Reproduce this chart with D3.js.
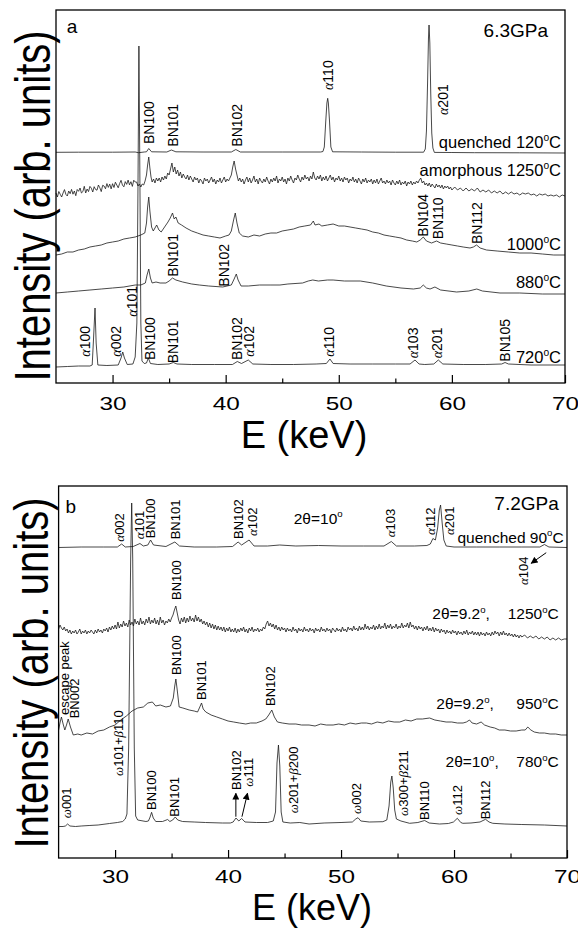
<!DOCTYPE html>
<html>
<head>
<meta charset="utf-8">
<script src="https://cdn.jsdelivr.net/npm/d3@7"></script>
<style>
  body { margin: 0; background: #fff; }
  svg { display: block; font-family: "Liberation Sans", Arial, Helvetica, sans-serif; }
</style>
</head>
<body>
<svg id="chart" width="578" height="928"></svg>
<script>
// energy axis
const energyTicks = [30, 40, 50, 60, 70]
const energyMinor = [35, 45, 55, 65]

// ---- panel a, 6.3 GPa : [E keV, intensity arb.]
const aQuenched120 = [[25.0,230.7],[27.0,230.8],[30.0,230.8],[32.0,231],[32.3,230.3],[32.8,231],[33.0,231.2],[33.2,234.5],[33.45,231.2],[34.8,231],[35.2,233],[35.6,231.2],[38.0,231],[40.5,231],[40.9,233.5],[41.3,231],[45.0,231],[48.4,231],[48.6,231.5],[48.72,236],[48.85,262],[48.95,280],[49.02,284.7],[49.08,280],[49.18,262],[49.3,236],[49.45,231.2],[52.0,231],[55.0,230.8],[57.5,230.8],[57.65,234],[57.75,252],[57.85,300],[57.93,345],[57.98,358],[58.05,340],[58.13,290],[58.22,250],[58.32,235],[58.45,230.6],[60.0,230.5],[62.0,230.3],[66.0,230.2],[70.0,230]]

const aAmorphous1250 = [[25.0,190],[25.125,186],[25.25,191.5],[25.375,188.7],[25.5,186],[25.625,190],[25.75,193.4],[25.875,188.6],[26.0,187],[26.125,192],[26.25,189.3],[26.375,193.6],[26.5,188.8],[26.625,192],[26.75,187.3],[26.875,193.5],[27.0,191.7],[27.125,195],[27.25,190],[27.375,191.4],[27.5,196.7],[27.625,190],[27.75,194],[27.875,191.4],[28.0,196.6],[28.125,194.8],[28.25,191],[28.375,196.3],[28.5,193.5],[28.625,192.8],[28.75,198],[28.875,195.2],[29.0,191.4],[29.125,197.7],[29.25,197],[29.375,194.2],[29.5,199.4],[29.625,195.6],[29.75,198.9],[29.875,194.1],[30.0,199.3],[30.125,195.5],[30.25,200.8],[30.375,198],[30.5,195.2],[30.625,199.5],[30.75,202.7],[30.875,197.9],[31.0,196.2],[31.125,201.4],[31.25,198.6],[31.375,202.9],[31.5,198.1],[31.625,201.3],[31.75,196.6],[31.875,202.8],[32.0,201],[32.125,201],[32.25,197],[32.375,199],[32.5,196],[32.625,199],[32.75,198],[32.875,202],[33.0,208],[33.1,218],[33.2,226],[33.3,215],[33.4,206],[33.5,201],[33.625,204],[33.75,200],[33.875,205],[34.0,202],[34.125,205],[34.25,201],[34.375,206],[34.5,203],[34.625,207],[34.75,204],[34.875,210],[35.0,208],[35.125,214],[35.25,220],[35.375,211],[35.5,216],[35.625,209],[35.75,213],[35.875,207],[36.0,211],[36.125,205],[36.25,209],[36.375,206],[36.5,204],[36.625,208],[36.75,203],[36.875,207],[37.0,204],[37.125,201],[37.25,206],[37.375,203],[37.5,205],[37.625,200],[37.75,204],[37.875,202],[38.0,199],[38.125,205],[38.25,202],[38.375,204],[38.5,200],[38.625,203],[38.75,206],[38.875,201],[39.0,204],[39.125,199],[39.25,203],[39.375,201],[39.5,205],[39.625,200],[39.75,203],[39.875,206],[40.0,201],[40.125,204],[40.25,202],[40.375,205],[40.5,208],[40.625,216],[40.75,222],[40.875,214],[41.0,208],[41.125,202],[41.25,205],[41.375,201],[41.5,204],[41.625,199],[41.75,203],[41.875,206],[42.0,201],[42.125,205],[42.25,200],[42.375,203],[42.5,207],[42.625,201],[42.75,204],[42.875,199],[43.0,205],[43.125,202],[43.25,200],[43.375,204],[43.5,201],[43.625,206],[43.75,202],[43.875,199],[44.0,204],[44.125,201],[44.25,205],[44.375,202],[44.5,207],[44.625,200],[44.75,204],[44.875,202],[45.0,206],[45.125,201],[45.25,204],[45.375,199],[45.5,205],[45.625,202],[45.75,207],[45.875,203],[46.0,200],[46.125,205],[46.25,203],[46.375,208],[46.5,204],[46.625,201],[46.75,206],[46.875,203],[47.0,208],[47.125,204],[47.25,206],[47.375,202],[47.5,207],[47.625,204],[47.75,211],[47.875,205],[48.0,203],[48.125,207],[48.25,204],[48.375,208],[48.5,202],[48.625,206],[48.75,203],[48.875,207],[49.0,202],[49.125,205],[49.25,208],[49.375,203],[49.5,206],[49.625,201],[49.75,205],[49.875,203],[50.0,207],[50.125,202],[50.25,205],[50.375,201],[50.5,206],[50.625,203],[50.75,205],[50.875,200],[51.0,204],[51.125,202],[51.25,206],[51.375,201],[51.5,204],[51.625,200],[51.75,205],[51.875,202],[52.0,199],[52.125,204],[52.25,201],[52.375,205],[52.5,200],[52.625,203],[52.75,201],[52.875,204],[53.0,199],[53.125,203],[53.25,200],[53.375,204],[53.5,199],[53.625,202],[53.75,205],[53.875,200],[54.0,202],[54.125,199],[54.25,203],[54.375,200],[54.5,202],[54.625,198],[54.75,203],[54.875,200],[55.0,198],[55.125,202],[55.25,199],[55.375,203],[55.5,198],[55.625,201],[55.75,199],[55.875,202],[56.0,197],[56.125,201],[56.25,199],[56.375,202],[56.5,198],[56.625,201],[56.75,199],[56.875,202],[57.0,200],[57.125,203],[57.25,205],[57.375,200],[57.5,202],[57.625,198],[57.75,200],[57.875,197],[58.0,200],[58.125,196],[58.25,199],[58.375,197],[58.5,195],[58.625,199],[58.75,196],[58.875,198],[59.0,195],[59.125,198],[59.25,194],[59.375,197],[59.5,195],[59.625,197],[59.75,194],[59.875,196],[60.0,193],[60.25,196],[60.5,193],[60.75,195],[61.0,192],[61.25,195],[61.5,192],[61.75,194],[62.0,192],[62.25,195],[62.5,191],[62.75,193],[63.0,191],[63.25,193],[63.5,190],[63.75,192],[64.0,190],[64.25,192],[64.5,189],[64.75,191],[65.0,189],[65.25,191],[65.5,189],[65.75,190],[66.0,188],[66.25,190],[66.5,189],[66.75,190],[67.0,188],[67.25,189],[67.5,187],[67.75,189],[68.0,188],[68.25,189],[68.5,187],[68.75,188],[69.0,187],[69.25,188],[69.5,186],[69.75,188],[70.0,187]]

const a1000 = [[25.0,128],[25.5,129],[26.0,131],[26.5,131],[27.0,133],[27.5,134],[28.0,136],[28.5,137],[29.0,138],[29.5,140],[30.0,141],[30.5,142],[31.0,144],[31.5,145],[32.0,146],[32.5,148],[32.85,150],[33.0,160],[33.1,176],[33.2,186],[33.3,172],[33.45,156],[33.6,152],[33.75,155],[33.9,158],[34.1,153],[34.3,151],[34.6,156],[34.9,161],[35.1,165],[35.3,170],[35.45,164],[35.6,166],[35.8,160],[36.1,158],[36.5,155],[37.0,152],[37.5,150],[38.0,148],[38.5,147],[39.0,146],[39.5,145],[40.0,147],[40.3,148],[40.5,152],[40.7,163],[40.85,170],[41.0,160],[41.2,150],[41.5,147],[42.0,146],[42.5,148],[43.0,147],[43.5,149],[44.0,150],[44.5,150],[45.0,152],[45.5,153],[46.0,154],[46.5,156],[47.0,157],[47.5,158],[47.75,162],[47.9,158],[48.25,159],[48.5,157],[49.0,158],[49.5,159],[50.0,157],[50.5,157],[51.0,156],[51.5,155],[52.0,154],[52.5,153],[53.0,151],[53.5,150],[54.0,148],[54.5,147],[55.0,146],[55.5,145],[56.0,143],[56.5,142],[56.9,141],[57.2,143],[57.47,146],[57.75,142],[58.2,140],[58.65,142],[59.0,140],[59.5,139],[60.0,138],[60.5,137],[61.0,136],[61.6,135],[61.9,136],[62.18,138],[62.5,135],[63.06,133],[64.0,132],[65.0,131],[66.0,130],[67.0,130],[68.0,129],[69.0,128],[70.0,128]]

const a880 = [[25.0,90],[26.0,91],[27.0,92],[28.0,93],[29.0,94],[30.0,95],[31.0,96],[32.0,98],[32.5,98],[32.9,100],[33.05,108],[33.2,114],[33.35,105],[33.5,100],[33.84,101],[34.2,100],[34.72,100],[35.0,102],[35.3,105],[35.6,103],[36.2,101],[37.0,99],[37.67,98],[38.5,97],[39.74,96],[40.5,98],[40.75,104],[40.94,109],[41.1,103],[41.36,97],[42.0,97],[43.0,98],[44.0,98],[44.8,98],[45.5,99],[46.8,100],[47.3,102],[47.7,103],[48.2,102],[49.0,103],[49.5,103],[50.5,102],[51.9,102],[53.0,100],[54.2,97],[55.5,95],[56.6,94],[57.2,95],[57.47,98],[57.75,95],[58.07,94],[58.5,96],[59.0,93],[60.42,91],[61.5,92],[62.2,94],[62.7,92],[64.25,90],[66.0,90],[68.0,89],[70.0,89]]

const a720 = [[25.0,16],[26.0,16.5],[27.0,17],[28.0,17],[28.2,18],[28.3,40],[28.45,75],[28.55,40],[28.7,18],[29.5,17.5],[30.5,18],[30.75,25],[30.9,31],[31.05,25],[31.3,18.5],[31.8,19],[32.0,26],[32.15,60],[32.25,200],[32.33,337],[32.42,200],[32.5,60],[32.6,22],[32.8,19.5],[33.0,20],[33.16,25],[33.35,19.5],[34.0,18.5],[35.0,19],[35.37,20.5],[35.7,19],[37.0,18.5],[39.0,18.5],[40.6,18.5],[41.03,21.5],[41.4,19.5],[42.0,23],[42.4,19],[44.0,18.5],[46.0,18.5],[48.0,19],[48.9,19.5],[49.22,24],[49.5,19.5],[51.0,19],[53.0,19],[55.0,19],[56.3,19],[56.74,23],[57.1,19],[57.6,18.5],[58.4,19],[58.8,23],[59.2,19],[61.0,18.5],[63.0,18.5],[64.4,19],[64.7,20.5],[65.0,19],[67.0,18],[70.0,18]]

// ---- panel b, 7.2 GPa
const bQuenched90 = [[25.0,310.5],[27.0,311],[29.0,311],[30.2,311],[30.58,314],[30.9,311],[31.6,311.5],[32.2,314.5],[32.5,312],[32.9,313],[33.14,318],[33.4,313],[34.5,311.5],[35.29,316],[35.7,312],[37.0,311],[39.0,311],[40.4,311.5],[40.89,316],[41.2,313],[41.86,318],[42.3,312],[43.5,312],[44.57,313],[46.0,312],[48.0,312.5],[50.0,312],[52.0,312],[53.8,312],[54.45,316.5],[54.9,312],[56.5,312],[57.6,312.5],[57.9,314],[58.13,319.5],[58.35,318],[58.55,330],[58.7,348],[58.81,353],[58.95,335],[59.1,318],[59.31,312],[60.0,311],[62.0,311],[64.0,311],[66.0,311],[67.6,311],[68.0,313.5],[68.4,311],[70.0,310.5]]

const b1250 = [[25.0,229],[25.125,233],[25.25,230],[25.375,228],[25.5,231],[25.625,227],[25.75,229],[25.875,225],[26.0,228],[26.125,224],[26.25,227],[26.375,225],[26.5,228],[26.625,224],[26.75,226],[26.875,229],[27.0,224],[27.125,227],[27.25,225],[27.375,228],[27.5,224],[27.625,227],[27.75,225],[27.875,228],[28.0,226],[28.125,224],[28.25,228],[28.375,225],[28.5,229],[28.625,226],[28.75,228],[28.875,225],[29.0,229],[29.125,227],[29.25,230],[29.375,226],[29.5,231],[29.625,228],[29.75,232],[29.875,229],[30.0,233],[30.125,229],[30.25,236],[30.375,230],[30.5,234],[30.625,231],[30.75,237],[30.875,232],[31.0,235],[31.125,231],[31.25,238],[31.375,233],[31.5,236],[31.625,232],[31.75,239],[31.875,234],[32.0,237],[32.125,233],[32.25,240],[32.375,234],[32.5,237],[32.625,233],[32.75,239],[32.875,235],[33.0,241],[33.125,234],[33.25,238],[33.375,235],[33.5,240],[33.625,234],[33.75,238],[33.875,233],[34.0,241],[34.125,235],[34.25,238],[34.375,233],[34.5,237],[34.625,235],[34.75,239],[34.875,236],[35.0,240],[35.125,243],[35.25,248],[35.375,252],[35.5,245],[35.625,238],[35.75,234],[35.875,240],[36.0,236],[36.125,241],[36.25,235],[36.375,240],[36.5,236],[36.625,242],[36.75,237],[36.875,240],[37.0,236],[37.125,243],[37.25,237],[37.375,241],[37.5,236],[37.625,239],[37.75,234],[37.875,237],[38.0,233],[38.125,236],[38.25,231],[38.375,235],[38.5,230],[38.625,234],[38.75,229],[38.875,233],[39.0,228],[39.125,232],[39.25,228],[39.375,231],[39.5,227],[39.625,231],[39.75,226],[39.875,230],[40.0,227],[40.125,231],[40.25,226],[40.375,229],[40.5,226],[40.625,230],[40.75,225],[40.875,229],[41.0,226],[41.125,230],[41.25,227],[41.375,231],[41.5,226],[41.625,229],[41.75,225],[41.875,230],[42.0,227],[42.125,231],[42.25,226],[42.375,229],[42.5,227],[42.625,230],[42.75,226],[42.875,229],[43.0,227],[43.125,231],[43.25,229],[43.375,234],[43.5,237],[43.625,232],[43.75,235],[43.875,231],[44.0,234],[44.125,229],[44.25,233],[44.375,228],[44.5,231],[44.625,227],[44.75,231],[44.875,228],[45.0,230],[45.125,226],[45.25,230],[45.375,227],[45.5,229],[45.625,226],[45.75,231],[45.875,227],[46.0,229],[46.125,225],[46.25,230],[46.375,227],[46.5,229],[46.625,226],[46.75,231],[46.875,227],[47.0,229],[47.125,226],[47.25,230],[47.375,227],[47.5,229],[47.625,225],[47.75,230],[47.875,227],[48.0,229],[48.125,226],[48.25,231],[48.375,227],[48.5,229],[48.625,226],[48.75,230],[48.875,227],[49.0,229],[49.125,225],[49.25,230],[49.375,228],[49.5,226],[49.625,230],[49.75,227],[49.875,229],[50.0,226],[50.125,231],[50.25,227],[50.375,229],[50.5,226],[50.625,231],[50.75,228],[50.875,230],[51.0,227],[51.125,232],[51.25,228],[51.375,230],[51.5,227],[51.625,232],[51.75,228],[51.875,231],[52.0,228],[52.125,234],[52.25,229],[52.375,232],[52.5,228],[52.625,231],[52.75,229],[52.875,233],[53.0,228],[53.125,232],[53.25,229],[53.375,234],[53.5,229],[53.625,232],[53.75,230],[53.875,235],[54.0,229],[54.125,233],[54.25,230],[54.375,234],[54.5,229],[54.625,232],[54.75,230],[54.875,234],[55.0,229],[55.125,232],[55.25,230],[55.375,235],[55.5,230],[55.625,233],[55.75,231],[55.875,235],[56.0,230],[56.125,236],[56.25,231],[56.375,233],[56.5,229],[56.625,232],[56.75,228],[56.875,232],[57.0,229],[57.125,231],[57.25,227],[57.375,231],[57.5,228],[57.625,232],[57.75,227],[57.875,230],[58.0,227],[58.125,231],[58.25,226],[58.375,230],[58.5,227],[58.625,229],[58.75,225],[58.875,229],[59.0,226],[59.125,228],[59.25,224],[59.375,228],[59.5,225],[59.625,227],[59.75,224],[59.875,228],[60.0,225],[60.125,227],[60.25,223],[60.375,227],[60.5,224],[60.625,226],[60.75,223],[60.875,227],[61.0,224],[61.125,228],[61.25,223],[61.375,226],[61.5,224],[61.625,227],[61.75,223],[61.875,226],[62.0,223],[62.125,226],[62.25,222],[62.375,226],[62.5,223],[62.625,225],[62.75,222],[62.875,226],[63.0,223],[63.125,225],[63.25,222],[63.375,226],[63.5,223],[63.625,227],[63.75,224],[63.875,226],[64.0,222],[64.125,226],[64.25,223],[64.375,227],[64.5,223],[64.625,225],[64.75,222],[64.875,225],[65.0,222],[65.125,224],[65.25,221],[65.375,224],[65.5,221],[65.625,223],[65.75,220],[65.875,223],[66.0,221],[66.25,223],[66.5,220],[66.75,222],[67.0,220],[67.25,222],[67.5,219],[67.75,221],[68.0,219],[68.25,221],[68.5,218],[68.75,220],[69.0,218],[69.25,220],[69.5,218],[69.75,219],[70.0,219]]

const b950 = [[25.0,128],[25.12,135],[25.25,141],[25.4,134],[25.55,128],[25.7,133],[25.85,139],[26.05,131],[26.3,123],[26.7,124],[27.0,123],[27.5,125],[28.0,124],[28.5,127],[29.0,128],[29.5,131],[30.0,133],[30.5,138],[31.0,142],[31.5,147],[32.0,150],[32.5,151],[32.9,155],[33.3,156],[33.6,152],[34.0,153],[34.5,151],[34.9,152],[35.15,160],[35.28,172],[35.38,179],[35.5,168],[35.67,151],[36.0,150],[36.56,148],[37.0,147],[37.3,146],[37.5,151],[37.65,155],[37.8,149],[38.03,146],[38.5,143],[39.0,141],[39.5,139],[40.0,137],[40.5,136],[41.0,135],[41.57,134],[42.0,135],[42.5,135],[43.0,137],[43.34,139],[43.6,143],[43.87,148],[44.1,141],[44.37,136],[44.8,135],[45.4,134],[46.0,134],[46.5,133],[47.17,133],[47.7,132],[48.2,134],[48.7,133],[49.3,133],[49.8,134],[50.3,133],[50.8,135],[51.3,134],[51.8,135],[52.24,135],[52.7,134],[53.2,136],[53.7,135],[54.2,137],[54.7,136],[55.2,136],[55.7,138],[56.2,137],[56.7,139],[57.2,139],[57.84,140],[58.3,138],[58.8,137],[59.3,136],[59.8,136],[60.3,135],[60.8,135],[61.1,136],[61.37,138],[61.6,135],[62.0,134],[62.4,136],[62.7,133],[63.2,131],[63.6,130],[64.0,128],[64.5,128],[65.0,127],[65.5,127],[66.0,128],[66.3,128],[66.53,131],[66.8,128],[67.1,126],[67.56,125],[68.0,125],[68.5,124],[69.0,124],[69.5,123],[70.0,123]]

const b780 = [[25.0,31.5],[25.4,31.5],[25.6,32],[25.8,34],[26.0,32],[26.5,31.5],[27.0,32],[27.7,32.5],[28.5,33],[29.5,34.5],[30.2,35.5],[30.67,36.5],[30.9,39],[31.05,44],[31.2,110],[31.38,300],[31.47,355],[31.56,300],[31.7,110],[31.82,42],[32.0,38],[32.73,36.5],[32.95,37],[33.1,41],[33.23,45.7],[33.38,40],[33.6,36.5],[34.2,36.5],[34.65,38.5],[34.85,36.5],[35.1,38],[35.32,41],[35.55,38],[35.97,36.5],[37.0,36],[38.0,35.5],[39.5,35],[40.2,35],[40.45,36],[40.7,40],[40.95,37],[41.2,39.5],[41.5,36],[42.5,35.5],[43.5,35.5],[44.0,37],[44.2,46],[44.33,95],[44.46,113],[44.58,92],[44.7,46],[44.85,36],[45.5,35],[46.35,35.5],[47.17,34],[48.5,35],[50.0,35.5],[51.0,36],[51.3,39],[51.5,40.3],[51.75,37],[52.5,36],[53.7,36.3],[54.05,38],[54.25,52],[54.4,76],[54.5,82],[54.62,70],[54.75,48],[54.9,39],[55.3,37],[56.07,34.7],[56.8,35.5],[57.4,37.5],[57.8,35],[58.72,34],[59.5,34.5],[59.95,36],[60.29,39.7],[60.6,35.5],[60.78,34.7],[61.5,35],[62.3,36],[62.79,38.7],[63.1,36],[63.43,34.7],[64.5,34],[66.0,33.5],[68.0,33],[70.0,32]]

// ---- annotations: [text, E, intensity]
const aPeakLabels = [
  ['BN100', 33.25, 239], ['BN101', 35.37, 236.3], ['BN102', 41.03, 236.3], ['α110', 49.07, 293], ['α201', 59.24, 268],
  ['BN104', 57.47, 146.3], ['BN110', 58.75, 143.7], ['BN112', 62.19, 139],
  ['BN101', 35.32, 106.3], ['BN102', 39.88, 96.3],
  ['α100', 27.56, 26.3], ['α002', 30.28, 26.3], ['α101', 31.69, 66.3], ['BN100', 33.31, 23], ['BN101', 35.37, 19.7],
  ['BN102', 41.03, 23], ['α102', 42.09, 26.3], ['α110', 49.16, 26.3], ['α103', 56.59, 24.7], ['α201', 58.71, 24.7], ['BN105', 64.69, 21.3]
]
const aConditions = [['quenched 120°C', 69.65, 234.7], ['amorphous 1250°C', 69.65, 207], ['1000°C', 69.65, 133], ['880°C', 69.65, 94.7], ['720°C', 69.65, 20.3]]

const bPeakLabels = [
  ['α002', 30.37, 316.3], ['α101', 32.14, 318.7], ['BN100', 33.14, 319.7], ['BN101', 35.29, 318.7], ['BN102', 40.95, 319], ['α102', 42.16, 322],
  ['α103', 54.39, 320.7], ['α112', 57.9, 323], ['α201', 59.6, 323], ['α104', 66.15, 273],
  ['BN100', 35.38, 258],
  ['escape peak', 25.5, 143], ['BN002', 26.39, 139.7], ['BN100', 35.44, 183], ['BN101', 37.65, 158], ['BN102', 43.78, 152],
  ['ω001', 25.72, 39.7], ['ω101+β110', 30.31, 82], ['BN100', 33.17, 48], ['BN101', 35.23, 41.3], ['BN102', 40.69, 68], ['ω111', 41.81, 71.3],
  ['ω201+β200', 45.75, 44.7], ['ω002', 51.36, 44], ['ω300+β211', 55.48, 42], ['BN110', 57.4, 38], ['ω112', 60.25, 43], ['BN112', 62.76, 38.7]
]
const bAngles = [['2θ=10°', 45.81, 334], ['2θ=9.2°,', 58.08, 238.7], ['2θ=9.2°,', 58.43, 148.7], ['2θ=10°,', 59.25, 90.7]]
const bConditions = [['quenched 90°C', 69.7, 315.3], ['1250°C', 69.27, 238.7], ['950°C', 69.27, 148.7], ['780°C', 69.27, 90.7]]
const bArrows = [[40.69, 41.3, 40.69, 64.7], [41.23, 41.3, 41.72, 64.7], [68.16, 305.3, 66.83, 294.7]]

const svg = d3.select('#chart')

svg.append('defs').append('marker')
  .attr('id', 'head')
  .attr('viewBox', '0 0 10 10')
  .attr('refX', 9).attr('refY', 5)
  .attr('markerWidth', 7).attr('markerHeight', 7)
  .attr('markerUnits', 'userSpaceOnUse')
  .attr('orient', 'auto')
  .append('path').attr('d', 'M0,0L10,5L0,10z').attr('fill', '#000')

// greek letters in a serif italic, ° as raised o
function richText (sel, str, size) {
  const parts = str.split(/([αβωθ°])/).filter(s => s)
  let raised = false
  parts.forEach(p => {
    const t = sel.append('tspan')
    if (p === '°') {
      t.text('o').attr('font-size', size * 0.62).attr('dy', -size * 0.42)
      raised = true
      return
    }
    if (raised) { t.attr('dy', size * 0.42); raised = false }
    t.text(p)
    if ('αβω'.includes(p)) t.attr('font-family', '"Liberation Serif", serif').attr('font-style', 'italic')
  })
}

function drawPanel (cfg) {
  const x = d3.scaleLinear().domain([25, 70]).range([cfg.left, cfg.right])
  const y = d3.scaleLinear().domain([0, cfg.yMax]).range([cfg.bottom, cfg.top])
  const g = svg.append('g')

  const line = d3.line().x(d => x(d[0])).y(d => y(d[1]))
  g.selectAll('path.trace')
    .data(cfg.traces)
    .enter()
    .append('path')
    .attr('class', 'trace')
    .attr('d', line)
    .attr('fill', 'none')
    .attr('stroke', '#1a1a1a')
    .attr('stroke-width', 0.8)
    .attr('stroke-linejoin', 'round')

  // frame
  g.append('rect')
    .attr('x', cfg.left).attr('y', cfg.top)
    .attr('width', cfg.right - cfg.left).attr('height', cfg.bottom - cfg.top)
    .attr('fill', 'none').attr('stroke', '#000').attr('stroke-width', 1.3)

  const axis = g.append('g')
    .attr('transform', 'translate(0,' + cfg.bottom + ')')
    .call(d3.axisBottom(x).tickValues(energyTicks).tickSizeInner(-8).tickSizeOuter(0).tickPadding(cfg.tickPad))
  axis.select('.domain').remove()
  axis.selectAll('line').attr('stroke-width', 1.2)
  axis.selectAll('text')
    .attr('font-size', 19)
    .attr('font-family', '"Liberation Sans", Arial, sans-serif')
    .attr('fill', '#000')
    .attr('transform', 'scale(1.28,1)')

  const minor = g.append('g')
    .attr('transform', 'translate(0,' + cfg.bottom + ')')
    .call(d3.axisBottom(x).tickValues(energyMinor).tickSizeInner(-4.5).tickSizeOuter(0).tickFormat(''))
  minor.select('.domain').remove()
  minor.selectAll('line').attr('stroke-width', 1.2)

  // rotated peak labels
  cfg.peaks.forEach(d => {
    const t = g.append('text')
      .attr('transform', 'translate(' + x(d[1]) + ',' + y(d[2]) + ') rotate(-90)')
      .attr('dy', '0.36em')
      .attr('font-size', cfg.peakSize)
    richText(t, d[0], cfg.peakSize)
  })

  cfg.notesStart.forEach(d => {
    const t = g.append('text')
      .attr('x', x(d[1])).attr('y', y(d[2]))
      .attr('font-size', cfg.noteSize)
    richText(t, d[0], cfg.noteSize)
  })
  cfg.notesEnd.forEach(d => {
    const t = g.append('text')
      .attr('x', x(d[1])).attr('y', y(d[2]))
      .attr('text-anchor', 'end')
      .attr('font-size', cfg.noteSize)
    richText(t, d[0], cfg.noteSize)
  })

  g.selectAll('line.arrow')
    .data(cfg.arrows)
    .enter()
    .append('line')
    .attr('class', 'arrow')
    .attr('x1', d => x(d[0])).attr('y1', d => y(d[1]))
    .attr('x2', d => x(d[2])).attr('y2', d => y(d[3]))
    .attr('stroke', '#000').attr('stroke-width', 1)
    .attr('marker-end', 'url(#head)')

  // panel letter and pressure
  g.append('text').attr('x', x(cfg.letter[1])).attr('y', y(cfg.letter[2]))
    .attr('font-size', 19).text(cfg.letter[0])
  g.append('text').attr('x', x(cfg.pressure[1])).attr('y', y(cfg.pressure[2]))
    .attr('text-anchor', 'end').attr('font-size', 19).text(cfg.pressure[0])

  // axis titles
  g.append('text')
    .attr('x', cfg.xTitle[0]).attr('y', cfg.xTitle[1])
    .attr('text-anchor', 'middle').attr('font-size', cfg.xTitle[2])
    .text('E (keV)')
  g.append('text')
    .attr('transform', 'translate(' + cfg.yTitle[0] + ',' + cfg.yTitle[1] + ') rotate(-90) scale(1,' + cfg.yTitle[2] + ')')
    .attr('text-anchor', 'middle').attr('font-size', 40)
    .text('Intensity (arb. units)')
}

drawPanel({
  left: 56, right: 565, top: 10, bottom: 383, yMax: 373, tickPad: 14,
  traces: [aQuenched120, aAmorphous1250, a1000, a880, a720],
  peaks: aPeakLabels, peakSize: 14,
  notesStart: [], notesEnd: aConditions, noteSize: 16.5,
  arrows: [],
  letter: ['a', 25.95, 350.3], pressure: ['6.3GPa', 68.5, 346.3],
  xTitle: [304, 448, 38], yTitle: [50, 206, 1.26]
})

drawPanel({
  left: 58.6, right: 567, top: 486, bottom: 858, yMax: 372, tickPad: 11.5,
  traces: [bQuenched90, b1250, b950, b780],
  peaks: bPeakLabels, peakSize: 13,
  notesStart: bAngles, notesEnd: bConditions, noteSize: 15.5,
  arrows: bArrows,
  letter: ['b', 25.6, 344.7], pressure: ['7.2GPa', 69.27, 348],
  xTitle: [312, 920, 36], yTitle: [48, 673, 1.2]
})
</script>
</body>
</html>
